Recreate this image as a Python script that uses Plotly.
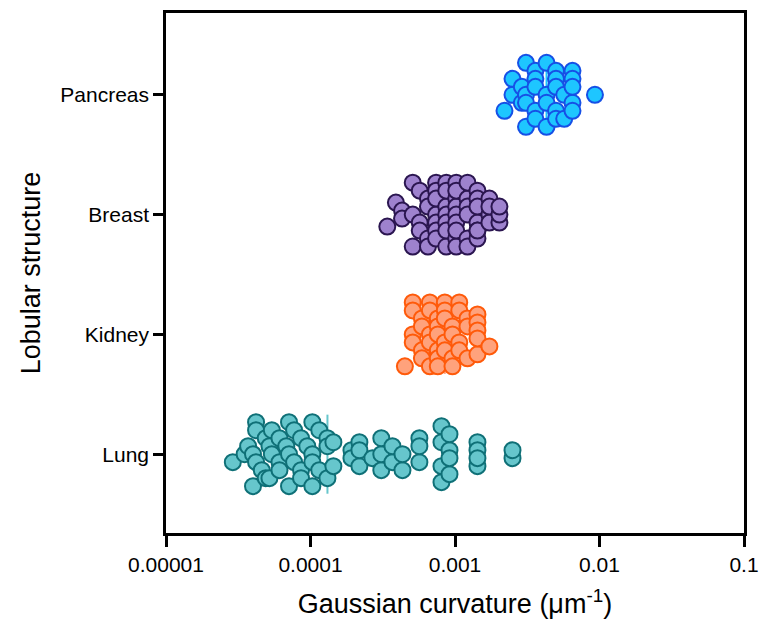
import numpy as np
import plotly.graph_objects as go

# ---- data (Gaussian curvature, um^-1) ----
categories = ["Lung", "Kidney", "Breast", "Pancreas"]

lung = [2.9e-5, 3.5e-5, 3.7e-5, 4.0e-5, 4.0e-5, 4.2e-5, 4.2e-5, 4.2e-5, 4.6e-5,
        4.9e-5, 4.9e-5, 5.2e-5, 5.2e-5, 5.4e-5, 5.4e-5, 6.1e-5, 6.1e-5, 6.1e-5,
        6.8e-5, 7.1e-5, 7.1e-5, 7.1e-5, 7.7e-5, 7.7e-5, 8.6e-5, 8.6e-5, 8.6e-5,
        9.5e-5, 1.03e-4, 1.03e-4, 1.03e-4, 1.03e-4, 1.15e-4, 1.15e-4, 1.31e-4,
        1.31e-4, 1.31e-4, 1.44e-4, 1.44e-4, 1.92e-4, 1.92e-4, 2.18e-4, 2.18e-4,
        2.18e-4, 2.68e-4, 3.09e-4, 3.09e-4, 3.09e-4, 3.69e-4, 3.69e-4, 4.33e-4,
        4.33e-4, 5.67e-4, 5.67e-4, 5.67e-4, 8.06e-4, 8.06e-4, 8.06e-4, 8.06e-4,
        9.16e-4, 9.16e-4, 9.16e-4, 9.16e-4, 1.43e-3, 1.43e-3, 1.43e-3, 1.43e-3,
        2.50e-3, 2.50e-3]

kidney = [4.5e-4, 5.1e-4, 5.1e-4, 5.1e-4, 5.1e-4, 5.9e-4, 5.9e-4, 5.9e-4, 5.9e-4,
          6.7e-4, 6.7e-4, 6.7e-4, 6.7e-4, 6.7e-4, 7.6e-4, 7.6e-4, 7.6e-4, 7.6e-4,
          7.6e-4, 7.6e-4, 8.5e-4, 8.5e-4, 8.5e-4, 8.5e-4, 8.5e-4, 9.6e-4, 9.6e-4,
          9.6e-4, 9.6e-4, 1.07e-3, 1.07e-3, 1.07e-3, 1.07e-3, 1.22e-3, 1.22e-3,
          1.22e-3, 1.43e-3, 1.43e-3, 1.43e-3, 1.43e-3, 1.43e-3, 1.73e-3]

breast = [3.4e-4, 3.9e-4, 4.3e-4, 4.3e-4, 5.1e-4, 5.1e-4, 5.1e-4, 5.7e-4, 5.7e-4,
          5.7e-4, 6.5e-4, 6.5e-4, 6.5e-4, 6.5e-4, 7.4e-4, 7.4e-4, 7.4e-4, 7.4e-4,
          7.4e-4, 7.4e-4, 7.4e-4, 8.7e-4, 8.7e-4, 8.7e-4, 8.7e-4, 8.7e-4, 8.7e-4,
          8.7e-4, 1.02e-3, 1.02e-3, 1.02e-3, 1.02e-3, 1.02e-3, 1.02e-3, 1.02e-3,
          1.02e-3, 1.02e-3, 1.22e-3, 1.22e-3, 1.22e-3, 1.22e-3, 1.22e-3, 1.22e-3,
          1.43e-3, 1.43e-3, 1.43e-3, 1.43e-3, 1.43e-3, 1.43e-3, 1.43e-3, 1.73e-3,
          1.73e-3, 1.73e-3, 1.73e-3, 2.03e-3, 2.03e-3, 2.03e-3]

pancreas = [2.2e-3, 2.5e-3, 2.5e-3, 2.9e-3, 2.9e-3, 3.1e-3, 3.1e-3, 3.1e-3, 3.1e-3,
            3.6e-3, 3.6e-3, 3.6e-3, 3.6e-3, 3.6e-3, 4.3e-3, 4.3e-3, 4.3e-3, 4.3e-3,
            5.0e-3, 5.0e-3, 5.0e-3, 5.0e-3, 5.0e-3, 5.7e-3, 5.7e-3, 6.5e-3, 6.5e-3,
            6.5e-3, 6.5e-3, 6.5e-3, 9.3e-3]

series = [lung, kidney, breast, pancreas]
fills = ["#66C6CC", "#FFA27C", "#9E82CE", "#1EC6FF"]
edges = ["#0F7077", "#FF5A0A", "#2B1650", "#1650E6"]

tick_vals = [1e-5, 1e-4, 1e-3, 1e-2, 1e-1]
tick_text = ["0.00001", "0.0001", "0.001", "0.01", "0.1"]

# ---- Prism-like column scatter layout (binned stacks) ----
BIN_W = 0.13      # decades
MAX_N = 9
STEP = 0.0667     # category units between stacked points


def swarm_offsets(vals):
    order = np.argsort(vals, kind="stable")
    lv = np.log10(np.asarray(vals, dtype=float))
    offs = np.zeros(len(vals))
    bins, cur = [], []
    for idx in order:
        if cur and (lv[idx] - lv[cur[0]] >= BIN_W or len(cur) >= MAX_N):
            bins.append(cur)
            cur = []
        cur.append(idx)
    if cur:
        bins.append(cur)
    for b in bins:
        n = len(b)
        s = max(1, n // 2)
        while np.gcd(s, n) != 1:
            s += 1
        for i, idx in enumerate(b):
            lvl = (i * s) % n
            offs[idx] = (lvl - (n - 1) / 2) * STEP
    return offs


fig = go.Figure()
font_family = "Liberation Sans, Arial, sans-serif"

for k, vals in enumerate(series):
    med = float(np.median(vals))
    fig.add_trace(go.Scatter(
        x=[med, med], y=[k - 0.33, k + 0.33], mode="lines",
        line=dict(color=fills[k], width=2), hoverinfo="skip"))

for k, vals in enumerate(series):
    offs = swarm_offsets(vals)
    fig.add_trace(go.Scatter(
        x=vals, y=k + offs, mode="markers", name=categories[k],
        marker=dict(size=16, color=fills[k], line=dict(color=edges[k], width=2))))

fig.update_layout(
    width=760, height=623,
    margin=dict(l=166, r=16, t=13, b=90, autoexpand=False),
    plot_bgcolor="white", paper_bgcolor="white",
    showlegend=False,
    font=dict(family=font_family, color="black", size=21),
    xaxis=dict(
        type="log", range=[-5, -1], automargin=False,
        tickvals=tick_vals, ticktext=tick_text,
        ticks="outside", ticklen=11, tickwidth=2.5, tickcolor="black",
        showline=True, linewidth=2.5, linecolor="black", mirror=True,
        showgrid=False, zeroline=False,
        tickfont=dict(size=21),
        title=dict(text="Gaussian curvature (μm<sup>-1</sup>)",
                   font=dict(size=27), standoff=20),
    ),
    yaxis=dict(
        range=[-0.658, 3.683], automargin=False,
        tickvals=[0, 1, 2, 3], ticktext=categories,
        ticks="outside", ticklen=10, tickwidth=2.5, tickcolor="black",
        showline=True, linewidth=2.5, linecolor="black", mirror=True,
        showgrid=False, zeroline=False,
        tickfont=dict(size=21),
        title=dict(text="Lobular structure", font=dict(size=27), standoff=12),
    ),
)

fig.write_html("out.html")
